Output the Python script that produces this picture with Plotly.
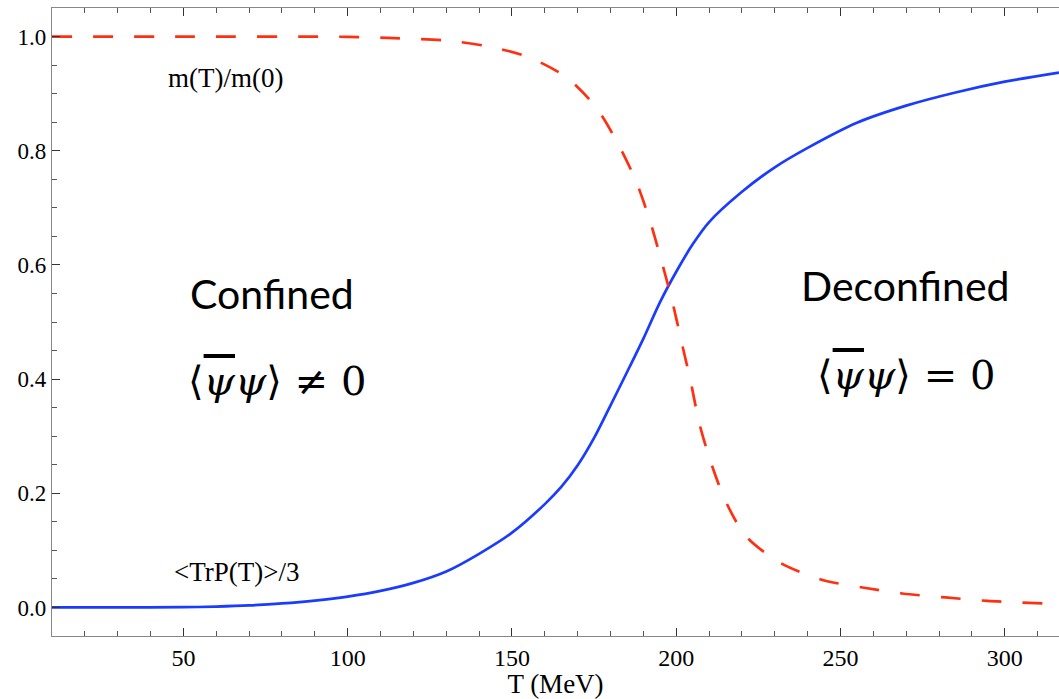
import plotly.graph_objects as go

# Polyakov loop <TrP(T)>/3 (blue, solid)
T_blue = [10, 30, 50, 60, 70, 80, 90, 100, 110, 120, 130, 140, 150, 160, 165, 170, 175, 180,
          185, 190, 195, 200, 205, 210, 220, 230, 240, 255, 270, 285, 300, 316.5]
P_blue = [0, 0, 0.0005, 0.0015, 0.0035, 0.007, 0.012, 0.019, 0.029, 0.043, 0.063, 0.094,
          0.131, 0.181, 0.211, 0.249, 0.297, 0.354, 0.412, 0.471, 0.534, 0.588, 0.636, 0.675,
          0.728, 0.771, 0.805, 0.849, 0.879, 0.902, 0.921, 0.937]

# m(T)/m(0) (red, dashed)
T_red = [10, 50, 100, 112, 130, 143, 155, 166.5, 175.6, 182.2, 187.8, 191.9, 195.4, 198.8,
         201.7, 204.5, 207, 210.6, 215.2, 221.2, 231.4, 244, 256.7, 268.8, 282, 294.7, 316.5]
M_red = [1.0, 1.0, 0.9995, 0.9976, 0.993, 0.9825, 0.964, 0.929, 0.876, 0.813, 0.746, 0.679,
         0.609, 0.536, 0.463, 0.393, 0.323, 0.253, 0.184, 0.125, 0.079, 0.049, 0.035, 0.0245,
         0.0175, 0.0115, 0.006]

x_ticks = [50, 100, 150, 200, 250, 300]
x_labels = ["50", "100", "150", "200", "250", "300"]
y_ticks = [0.0, 0.2, 0.4, 0.6, 0.8, 1.0]
y_labels = ["0.0", "0.2", "0.4", "0.6", "0.8", "1.0"]

fig = go.Figure()
fig.add_trace(go.Scatter(x=T_blue, y=P_blue, mode="lines",
                         line=dict(color="#1a3cff", width=2.7, shape="spline", smoothing=0.8),
                         showlegend=False, hoverinfo="skip"))
fig.add_trace(go.Scatter(x=T_red, y=M_red, mode="lines",
                         line=dict(color="#ff3010", width=2.7, dash="20px,21px", shape="spline", smoothing=0.8),
                         showlegend=False, hoverinfo="skip"))

serif = "Liberation Serif, Times New Roman, serif"
mathf = "DejaVu Serif, Liberation Serif, serif"
sans = "Lato, Open Sans, sans-serif"

W, H = 1059, 699
l, r, t, b = 52, 0, 8, 63
pw, ph = W - l - r, H - t - b

psibar = '<span style="text-decoration:overline">ψ</span>'
ann = [
    dict(x=225, y=78, text="m(T)/m(0)", font=dict(family=serif, size=27, color="black")),
    dict(x=236, y=572, text="&lt;TrP(T)&gt;/3", font=dict(family=serif, size=27, color="black")),
    dict(x=272, y=293, text="Confined", font=dict(family=sans, size=41, color="black")),
    dict(x=277, y=381, text="⟨<i>" + psibar + "ψ</i>⟩ ≠ 0", font=dict(family=mathf, size=40, color="black")),
    dict(x=905, y=285, text="Deconfined", font=dict(family=sans, size=41, color="black")),
    dict(x=906, y=375, text="⟨<i>" + psibar + "ψ</i>⟩ = 0", font=dict(family=mathf, size=40, color="black")),
]
annotations = []
for a in ann:
    annotations.append(dict(x=(a["x"] - l) / pw, y=1 - (a["y"] - t) / ph, xref="paper", yref="paper",
                            text=a["text"], showarrow=False, font=a["font"],
                            xanchor="center", yanchor="middle"))

fig.update_layout(
    width=W, height=H,
    margin=dict(l=l, r=r, t=t, b=b),
    paper_bgcolor="white", plot_bgcolor="white",
    font=dict(family=serif, size=23, color="black"),
    annotations=annotations,
    xaxis=dict(range=[10, 316.5], tickmode="array", tickvals=x_ticks, ticktext=x_labels,
               ticks="inside", ticklen=8, tickcolor="#333",
               showline=True, linecolor="#888", linewidth=1.3, mirror="ticks", showgrid=False, zeroline=False,
               minor=dict(dtick=10, tick0=0, ticks="inside", ticklen=5, tickcolor="#555", showgrid=False),
               tickfont=dict(family=serif, size=24, color="black"),
               title=dict(text="T (MeV)", font=dict(family=serif, size=27, color="black"), standoff=2)),
    yaxis=dict(range=[-0.05, 1.05], tickmode="array", tickvals=y_ticks, ticktext=y_labels,
               ticks="inside", ticklen=8,
               tickcolor="#333", showline=True, linecolor="#888", linewidth=1.3, mirror=False,
               showgrid=False, zeroline=False,
               minor=dict(dtick=0.05, tick0=0, ticks="inside", ticklen=5, tickcolor="#555", showgrid=False),
               tickfont=dict(family=serif, size=23, color="black")),
)

fig.write_html("out.html")
